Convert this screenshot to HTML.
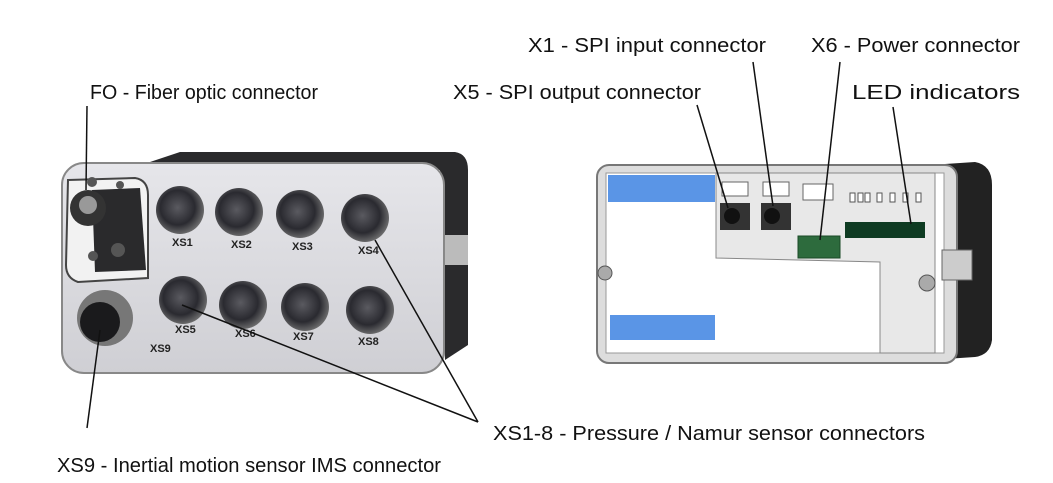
<!DOCTYPE html>
<html><head><meta charset="utf-8"><style>
html,body{margin:0;padding:0;background:#fff;}
svg{display:block;}
text{font-family:"Liberation Sans Narrow","Liberation Sans",Arial,sans-serif;font-size:20px;fill:#111;}
.s{font-family:"Liberation Sans",Arial,sans-serif;font-size:11px;font-weight:bold;fill:#222;}
</style></head><body>
<svg width="1053" height="483" viewBox="0 0 1053 483" xmlns="http://www.w3.org/2000/svg">
<defs>
<radialGradient id="cn" cx="0.45" cy="0.45" r="0.6"><stop offset="0" stop-color="#5a5a60"/><stop offset="0.6" stop-color="#2a2a30"/><stop offset="1" stop-color="#777"/></radialGradient>
<linearGradient id="fp" x1="0" y1="0" x2="0" y2="1"><stop offset="0" stop-color="#e6e6ea"/><stop offset="1" stop-color="#cfcfd4"/></linearGradient>
</defs>
<!-- LEFT DEVICE -->
<path d="M150 162 L180 152 L455 152 Q468 154 468 170 L468 345 L445 360 L440 170 Z" fill="#2a2a2c"/>
<rect x="440" y="235" width="28" height="30" fill="#bbb"/>
<rect x="62" y="163" width="382" height="210" rx="22" fill="url(#fp)" stroke="#888" stroke-width="2"/>
<path d="M68 180 L135 178 Q148 180 148 195 L148 278 L78 282 Q66 278 66 265 Z" fill="#f2f2f2" stroke="#444" stroke-width="2"/>
<path d="M92 190 L140 188 L146 270 L95 272 Z" fill="#2a2a2c"/>
<circle cx="88" cy="208" r="18" fill="#333"/><circle cx="88" cy="205" r="9" fill="#999"/>
<circle cx="92" cy="182" r="5" fill="#555"/><circle cx="120" cy="185" r="4" fill="#555"/>
<circle cx="93" cy="256" r="5" fill="#555"/><circle cx="118" cy="250" r="7" fill="#555"/>
<circle cx="105" cy="318" r="28" fill="#777"/><circle cx="100" cy="322" r="20" fill="#1a1a1c"/>
<g>
<circle cx="180" cy="210" r="24" fill="url(#cn)"/>
<circle cx="239" cy="212" r="24" fill="url(#cn)"/>
<circle cx="300" cy="214" r="24" fill="url(#cn)"/>
<circle cx="365" cy="218" r="24" fill="url(#cn)"/>
<circle cx="183" cy="300" r="24" fill="url(#cn)"/>
<circle cx="243" cy="305" r="24" fill="url(#cn)"/>
<circle cx="305" cy="307" r="24" fill="url(#cn)"/>
<circle cx="370" cy="310" r="24" fill="url(#cn)"/>
</g>
<text class="s" x="172" y="246">XS1</text><text class="s" x="231" y="248">XS2</text>
<text class="s" x="292" y="250">XS3</text><text class="s" x="358" y="254">XS4</text>
<text class="s" x="175" y="333">XS5</text><text class="s" x="235" y="337">XS6</text>
<text class="s" x="293" y="340">XS7</text><text class="s" x="358" y="345">XS8</text>
<text class="s" x="150" y="352">XS9</text>
<!-- RIGHT DEVICE -->
<path d="M930 165 L975 162 Q992 165 992 185 L992 340 Q990 355 975 357 L930 360 Z" fill="#222"/>
<rect x="597" y="165" width="360" height="198" rx="12" fill="#ddd" stroke="#777" stroke-width="2"/>
<rect x="606" y="173" width="338" height="180" fill="#fff" stroke="#999"/>
<path d="M716 173 L935 173 L935 353 L880 353 L880 262 L716 258 Z" fill="#e8e8e8" stroke="#888"/>
<rect x="608" y="175" width="107" height="27" fill="#5a95e6"/>
<rect x="610" y="315" width="105" height="25" fill="#5a95e6"/>
<rect x="722" y="182" width="26" height="14" fill="#fff" stroke="#666"/>
<rect x="763" y="182" width="26" height="14" fill="#fff" stroke="#666"/>
<rect x="803" y="184" width="30" height="16" fill="#fff" stroke="#666"/>
<g fill="#fff" stroke="#555"><rect x="850" y="193" width="5" height="9"/><rect x="858" y="193" width="5" height="9"/><rect x="865" y="193" width="5" height="9"/><rect x="877" y="193" width="5" height="9"/><rect x="890" y="193" width="5" height="9"/><rect x="903" y="193" width="5" height="9"/><rect x="916" y="193" width="5" height="9"/></g>
<rect x="720" y="203" width="30" height="27" fill="#333"/><circle cx="732" cy="216" r="8" fill="#111"/>
<rect x="761" y="203" width="30" height="27" fill="#333"/><circle cx="772" cy="216" r="8" fill="#111"/>
<rect x="798" y="236" width="42" height="22" fill="#2d6b3d" stroke="#1a4a26"/>
<rect x="845" y="222" width="80" height="16" fill="#0e3b22"/>
<circle cx="605" cy="273" r="7" fill="#aaa" stroke="#555"/>
<circle cx="927" cy="283" r="8" fill="#aaa" stroke="#555"/>
<rect x="942" y="250" width="30" height="30" fill="#ccc" stroke="#666"/>
<g stroke="#111" stroke-width="1.5" fill="none">
<line x1="87" y1="106" x2="86" y2="190"/>
<line x1="87" y1="428" x2="100" y2="330"/>
<line x1="478" y1="422" x2="375" y2="240"/>
<line x1="478" y1="422" x2="182" y2="305"/>
<line x1="697" y1="105" x2="728" y2="208"/>
<line x1="753" y1="62" x2="773" y2="206"/>
<line x1="840" y1="62" x2="820" y2="240"/>
<line x1="893" y1="107" x2="911" y2="224"/>
</g>
<text x="90" y="99" textLength="228" lengthAdjust="spacingAndGlyphs">FO - Fiber optic connector</text>
<text x="528" y="52" textLength="238" lengthAdjust="spacingAndGlyphs">X1 - SPI input connector</text>
<text x="811" y="52" textLength="209" lengthAdjust="spacingAndGlyphs">X6 - Power connector</text>
<text x="453" y="99" textLength="248" lengthAdjust="spacingAndGlyphs">X5 - SPI output connector</text>
<text x="852" y="99" textLength="168" lengthAdjust="spacingAndGlyphs">LED indicators</text>
<text x="493" y="440" textLength="432" lengthAdjust="spacingAndGlyphs">XS1-8 - Pressure / Namur sensor connectors</text>
<text x="57" y="472" textLength="384" lengthAdjust="spacingAndGlyphs">XS9 - Inertial motion sensor IMS connector</text>
</svg>
</body></html>
